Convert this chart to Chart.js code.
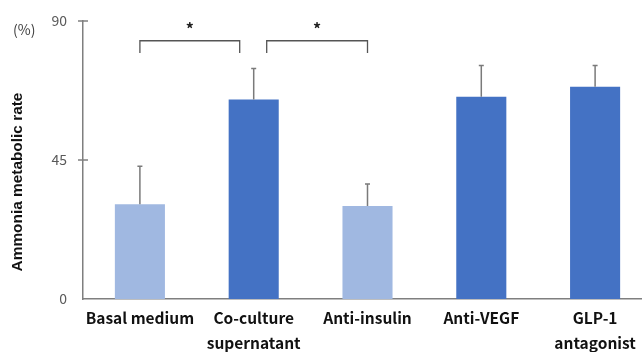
<!DOCTYPE html>
<html>
<head>
<meta charset="utf-8">
<script src="https://cdn.jsdelivr.net/npm/chart.js@4.4.1/dist/chart.umd.min.js"></script>
<style>
  html, body { margin: 0; padding: 0; background: #fff; overflow: hidden; }
  #wrap { position: relative; width: 656px; height: 352px; }
</style>
</head>
<body>
<div id="wrap"><canvas id="c"></canvas></div>
<script>
// Categories (multi-line labels) and measured values
const categories = [['Basal medium'], ['Co-culture', 'supernatant'], ['Anti-insulin'], ['Anti-VEGF'], ['GLP-1', 'antagonist']];
const meanRate = [30.7, 64.6, 30.1, 65.5, 68.7];
const errorSD = [12.3, 10.0, 7.1, 10.1, 6.9];
const groupKind = ['control', 'treated', 'control', 'treated', 'treated'];
const yTicks = [0, 45, 90];
const sigPairs = [[0, 1], [1, 2]];
const sigMarks = ['*', '*'];

const kindColor = { control: '#A0B8E1', treated: '#4472C4' };
const axisGray = '#7f7f7f';
const jpFont = '"Noto Sans CJK JP", "Noto Sans", sans-serif';

// Value axis: cross-style tick marks and right-aligned labels
const valueAxis = {
  id: 'valueAxis',
  afterDraw(chart) {
    const { ctx, chartArea, scales } = chart;
    const x0 = chartArea.left;
    ctx.save();
    ctx.strokeStyle = axisGray;
    ctx.lineWidth = 1.5;
    ctx.fillStyle = '#595959';
    ctx.font = '14px ' + jpFont;
    ctx.textAlign = 'right';
    ctx.textBaseline = 'middle';
    yTicks.forEach(v => {
      const y = scales.y.getPixelForValue(v);
      if (v !== 0) {
        ctx.beginPath();
        ctx.moveTo(x0 - 5, y);
        ctx.lineTo(x0 + 5, y);
        ctx.stroke();
      }
      ctx.fillText(String(v), x0 - 16, y);
    });
    ctx.restore();
  }
};

// Error bars (upper whisker with a small cap)
const errorBars = {
  id: 'errorBars',
  afterDatasetsDraw(chart) {
    const { ctx, scales } = chart;
    const meta = chart.getDatasetMeta(0);
    ctx.save();
    ctx.strokeStyle = '#7a7a7a';
    ctx.lineWidth = 1.5;
    meta.data.forEach((bar, i) => {
      const x = bar.x;
      const yTop = scales.y.getPixelForValue(meanRate[i]);
      const yErr = scales.y.getPixelForValue(meanRate[i] + errorSD[i]);
      ctx.beginPath();
      ctx.moveTo(x, yTop);
      ctx.lineTo(x, yErr);
      ctx.moveTo(x - 2.5, yErr);
      ctx.lineTo(x + 2.5, yErr);
      ctx.stroke();
    });
    ctx.restore();
  }
};

// Significance brackets with asterisks
const sigBrackets = {
  id: 'sigBrackets',
  afterDraw(chart) {
    const { ctx, scales } = chart;
    const lineY = scales.y.getPixelForValue(83.6);
    const footY = scales.y.getPixelForValue(79.6);
    const markY = scales.y.getPixelForValue(87.5);
    ctx.save();
    ctx.strokeStyle = '#555';
    ctx.lineWidth = 1.3;
    ctx.fillStyle = '#222';
    ctx.font = 'bold 16px ' + jpFont;
    ctx.textAlign = 'center';
    ctx.textBaseline = 'middle';
    sigPairs.forEach((pair, k) => {
      let xa = scales.x.getPixelForValue(pair[0]);
      let xb = scales.x.getPixelForValue(pair[1]);
      // keep neighbouring brackets apart where they share a category
      if (k > 0 && sigPairs[k - 1][1] === pair[0]) xa += 13;
      if (k < sigPairs.length - 1 && sigPairs[k + 1][0] === pair[1]) xb -= 14;
      ctx.beginPath();
      ctx.moveTo(xa, footY);
      ctx.lineTo(xa, lineY);
      ctx.lineTo(xb, lineY);
      ctx.lineTo(xb, footY);
      ctx.stroke();
      ctx.fillText(sigMarks[k], (xa + xb) / 2, markY);
    });
    ctx.restore();
  }
};

// Axis captions: unit at top-left and rotated axis title
const captions = {
  id: 'captions',
  afterDraw(chart) {
    const { ctx } = chart;
    ctx.save();
    ctx.fillStyle = '#404040';
    ctx.font = '14px ' + jpFont;
    ctx.textAlign = 'left';
    ctx.textBaseline = 'middle';
    ctx.fillText('(%)', 13, 30);
    ctx.translate(18, 182);
    ctx.rotate(-Math.PI / 2);
    ctx.fillStyle = '#111';
    ctx.font = 'bold 15.4px "Liberation Sans", Arial, sans-serif';
    ctx.textAlign = 'center';
    ctx.fillText('Ammonia metabolic rate', 0, 0);
    ctx.restore();
  }
};

new Chart(document.getElementById('c'), {
  type: 'bar',
  data: {
    labels: categories,
    datasets: [{
      data: meanRate,
      backgroundColor: groupKind.map(k => kindColor[k]),
      borderWidth: 0,
      barPercentage: 0.44,
      categoryPercentage: 1.0
    }]
  },
  options: {
    responsive: true,
    maintainAspectRatio: false,
    animation: false,
    layout: { padding: { top: 21, right: 4, bottom: 0, left: 0 } },
    plugins: { legend: { display: false }, tooltip: { enabled: false } },
    scales: {
      x: {
        grid: { display: false, drawTicks: false },
        border: { display: true, color: axisGray, width: 1.5 },
        ticks: {
          color: '#111',
          font: { family: jpFont, size: 15.5, weight: 'bold', lineHeight: '25px' },
          padding: 7,
          maxRotation: 0,
          autoSkip: false
        },
        afterFit(s) { s.height = 53; }
      },
      y: {
        min: 0,
        max: 90,
        afterBuildTicks(s) { s.ticks = yTicks.map(v => ({ value: v })); },
        grid: { display: false, drawTicks: false },
        border: { display: true, color: axisGray, width: 1.5 },
        ticks: { display: false },
        afterFit(s) { s.width = 83; }
      }
    }
  },
  plugins: [valueAxis, errorBars, sigBrackets, captions]
});
</script>
</body>
</html>
